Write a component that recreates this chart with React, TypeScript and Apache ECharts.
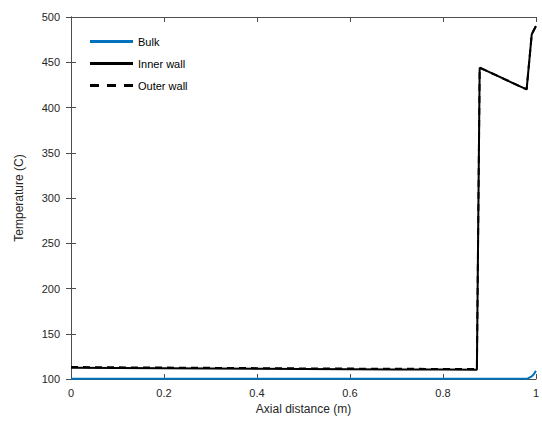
import React, { useEffect, useRef } from "react";
import * as echarts from "echarts";

const bulkX = [0, 0.2, 0.4, 0.6, 0.8, 0.982, 0.99, 0.995, 1.0];
const bulkY = [100.3, 100.3, 100.3, 100.3, 100.3, 100.3, 102.5, 105, 109];

const innerX = [0, 0.1, 0.2, 0.3, 0.4, 0.5, 0.6, 0.7, 0.8, 0.873, 0.879, 0.98, 0.991, 1.0];
const innerY = [112.5, 112.2, 111.9, 111.6, 111.3, 111.0, 110.8, 110.6, 110.4, 110.3, 444, 420, 481, 490];

const outerX = [0, 0.1, 0.2, 0.3, 0.4, 0.5, 0.6, 0.7, 0.8, 0.873, 0.879, 0.98, 0.991, 1.0];
const outerY = [113.2, 112.9, 112.6, 112.3, 112.0, 111.7, 111.5, 111.3, 111.1, 111.0, 444, 420, 481, 490];

const seriesNames = ["Bulk", "Inner wall", "Outer wall"];
const xTicks = { min: 0, max: 1, interval: 0.2 };
const yTicks = { min: 100, max: 500, interval: 50 };

const zip = (xs: number[], ys: number[]) => xs.map((x, i) => [x, ys[i]]);

const axisColor = "#4d4d4d";
const textColor = "#262626";
const font = "Liberation Sans, Arial, Helvetica, sans-serif";

const solidIcon = "path://M0,0h43v2.4h-43z";
const dashedIcon = "path://M0,0h9v2.4h-9zM17,0h9v2.4h-9zM34,0h9v2.4h-9z";

export default function App() {
  const ref = useRef<HTMLDivElement>(null);
  useEffect(() => {
    if (!ref.current) return;
    const chart = echarts.init(ref.current, null, { renderer: "svg" });
    const baseAxisLine = { show: true, lineStyle: { color: axisColor, width: 1 } };
    const tick = { show: true, inside: true, length: 5, lineStyle: { color: axisColor, width: 1 } };
    chart.setOption({
      animation: false,
      backgroundColor: "#ffffff",
      grid: { left: 71, right: 1, top: 17, bottom: 53, containLabel: false },
      legend: {
        orient: "vertical",
        left: 90,
        top: 36,
        padding: 0,
        itemWidth: 43,
        itemHeight: 3,
        itemGap: 11,
        symbolKeepAspect: false,
        textStyle: { fontFamily: font, fontSize: 11, color: "#000" },
        data: [
          { name: seriesNames[0], icon: solidIcon, itemStyle: { color: "#0072BD" } },
          { name: seriesNames[1], icon: solidIcon, itemStyle: { color: "#000000" } },
          { name: seriesNames[2], icon: dashedIcon, itemStyle: { color: "#000000" } },
        ],
      },
      xAxis: [
        {
          type: "value",
          min: xTicks.min,
          max: xTicks.max,
          interval: xTicks.interval,
          position: "bottom",
          axisLine: baseAxisLine,
          axisTick: tick,
          splitLine: { show: false },
          axisLabel: {
            show: true,
            margin: 8,
            color: textColor,
            fontFamily: font,
            fontSize: 11,
            showMinLabel: true,
            showMaxLabel: true,
            formatter: (v: number) => String(parseFloat(v.toFixed(1))),
          },
          name: "Axial distance (m)",
          nameLocation: "middle",
          nameGap: 12,
          nameTextStyle: { color: textColor, fontFamily: font, fontSize: 12 },
        },
        {
          type: "value",
          min: xTicks.min,
          max: xTicks.max,
          interval: xTicks.interval,
          position: "top",
          axisLine: baseAxisLine,
          axisTick: tick,
          splitLine: { show: false },
          axisLabel: { show: false },
        },
      ],
      yAxis: [
        {
          type: "value",
          min: yTicks.min,
          max: yTicks.max,
          interval: yTicks.interval,
          position: "left",
          axisLine: baseAxisLine,
          axisTick: tick,
          splitLine: { show: false },
          axisLabel: {
            show: true,
            margin: 11,
            color: textColor,
            fontFamily: font,
            fontSize: 11,
            showMinLabel: true,
            showMaxLabel: true,
          },
          name: "Temperature (C)",
          nameLocation: "middle",
          nameGap: 46,
          nameRotate: 90,
          nameTextStyle: { color: textColor, fontFamily: font, fontSize: 12 },
        },
        {
          type: "value",
          min: yTicks.min,
          max: yTicks.max,
          interval: yTicks.interval,
          position: "right",
          axisLine: baseAxisLine,
          axisTick: tick,
          splitLine: { show: false },
          axisLabel: { show: false },
        },
      ],
      series: [
        {
          name: seriesNames[0],
          type: "line",
          data: zip(bulkX, bulkY),
          showSymbol: false,
          symbol: "none",
          lineStyle: { color: "#0072BD", width: 2 },
          itemStyle: { color: "#0072BD" },
          z: 3,
        },
        {
          name: seriesNames[1],
          type: "line",
          data: zip(innerX, innerY),
          showSymbol: false,
          symbol: "none",
          lineStyle: { color: "#000000", width: 2 },
          itemStyle: { color: "#000000" },
          z: 4,
        },
        {
          name: seriesNames[2],
          type: "line",
          data: zip(outerX, outerY),
          showSymbol: false,
          symbol: "none",
          lineStyle: { color: "#000000", width: 2, type: [7, 5] },
          itemStyle: { color: "#000000" },
          z: 5,
        },
      ],
    });
    return () => chart.dispose();
  }, []);
  return (
    <div
      ref={ref}
      style={{ position: "fixed", left: 0, top: 0, width: 542, height: 432 }}
    />
  );
}
